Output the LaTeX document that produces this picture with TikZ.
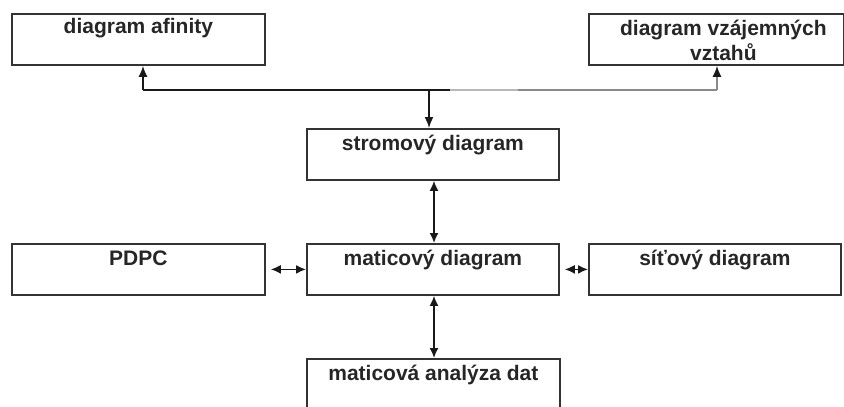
\documentclass[tikz,border=0pt]{standalone}
\usepackage{fontspec}
\setmainfont{Liberation Sans}
\usetikzlibrary{arrows.meta}
\definecolor{boxline}{HTML}{333333}
\definecolor{lgray}{HTML}{B8B8B8}
\definecolor{mgray}{HTML}{8A8A8A}
\begin{document}
\begin{tikzpicture}[x=1pt,y=-1pt,
  box/.style={draw=boxline, line width=1.8pt, rectangle, inner sep=0pt},
  lbl/.style={font=\fontsize{21}{25}\selectfont\bfseries, text=black!85, inner sep=0pt, align=center},
  conn/.style={draw=black!90, line width=1.6pt},
  tip/.style={-{Latex[length=11pt,width=9pt]}},
  tips/.style={{Latex[length=10pt,width=9pt]}-{Latex[length=10pt,width=9pt]}}]
\useasboundingbox (0,0) rectangle (844,407);
% boxes
\node[box, minimum width=253pt, minimum height=51pt, anchor=north west] (afin) at (11,13) {};
\node[box, minimum width=255pt, minimum height=51pt, anchor=north west] (vzt) at (588,13) {};
\node[box, minimum width=252pt, minimum height=51pt, anchor=north west] (strom) at (306,128) {};
\node[box, minimum width=253pt, minimum height=51pt, anchor=north west] (pdpc) at (11,243) {};
\node[box, minimum width=252pt, minimum height=51pt, anchor=north west] (matic) at (306,243) {};
\node[box, minimum width=252pt, minimum height=51pt, anchor=north west] (sit) at (588,243) {};
\node[box, minimum width=253pt, minimum height=70pt, anchor=north west] (anal) at (306,358) {};
% labels
\node[lbl, anchor=base] (tafin) at ([yshift=-20pt]afin.north) {diagram afinity};
\node[lbl, anchor=base] (tvzt1) at ([xshift=7pt,yshift=-22pt]vzt.north) {diagram vzájemných};
\node[lbl, anchor=base] (tvzt2) at ([xshift=7pt,yshift=-47pt]vzt.north) {vztahů};
\node[lbl, anchor=base] (tstrom) at ([yshift=-22pt]strom.north) {stromový diagram};
\node[lbl, anchor=base] (tpdpc) at ([yshift=-22pt]pdpc.north) {PDPC};
\node[lbl, anchor=base] (tmatic) at ([yshift=-22pt]matic.north) {maticový diagram};
\node[lbl, anchor=base] (tsit) at ([yshift=-22pt]sit.north) {síťový diagram};
\node[lbl, anchor=base] (tanal) at ([yshift=-22pt]anal.north) {maticová analýza dat};
% junction coordinates
\coordinate (jl) at (143,90);
\coordinate (jm) at (429,90);
\coordinate (j1) at (450,90);
\coordinate (j2) at (518,90);
\coordinate (jr) at (717,90);
% top distribution line
\draw[conn] (jl) -- (j1);
\draw[conn, draw=lgray] (j1) -- (j2);
\draw[conn, draw=mgray] (j2) -- (jr);
\draw[conn, tip] (jl) -- (jl |- afin.south);
\draw[conn, draw=mgray, -{Latex[length=11pt,width=9pt,color=black!90]}] (jr) -- (jr |- vzt.south);
\draw[conn, tip] (jm) -- (jm |- strom.north);
% vertical links
\draw[conn, tips] (434,0 |- strom.south) -- (434,0 |- matic.north);
\draw[conn, tips] (434,0 |- matic.south) -- (434,0 |- anal.north);
% horizontal links
\draw[conn, tips] ([xshift=5pt]pdpc.east) -- (matic.west);
\draw[conn, tips] ([xshift=5pt]matic.east) -- (sit.west);
\end{tikzpicture}
\end{document}
